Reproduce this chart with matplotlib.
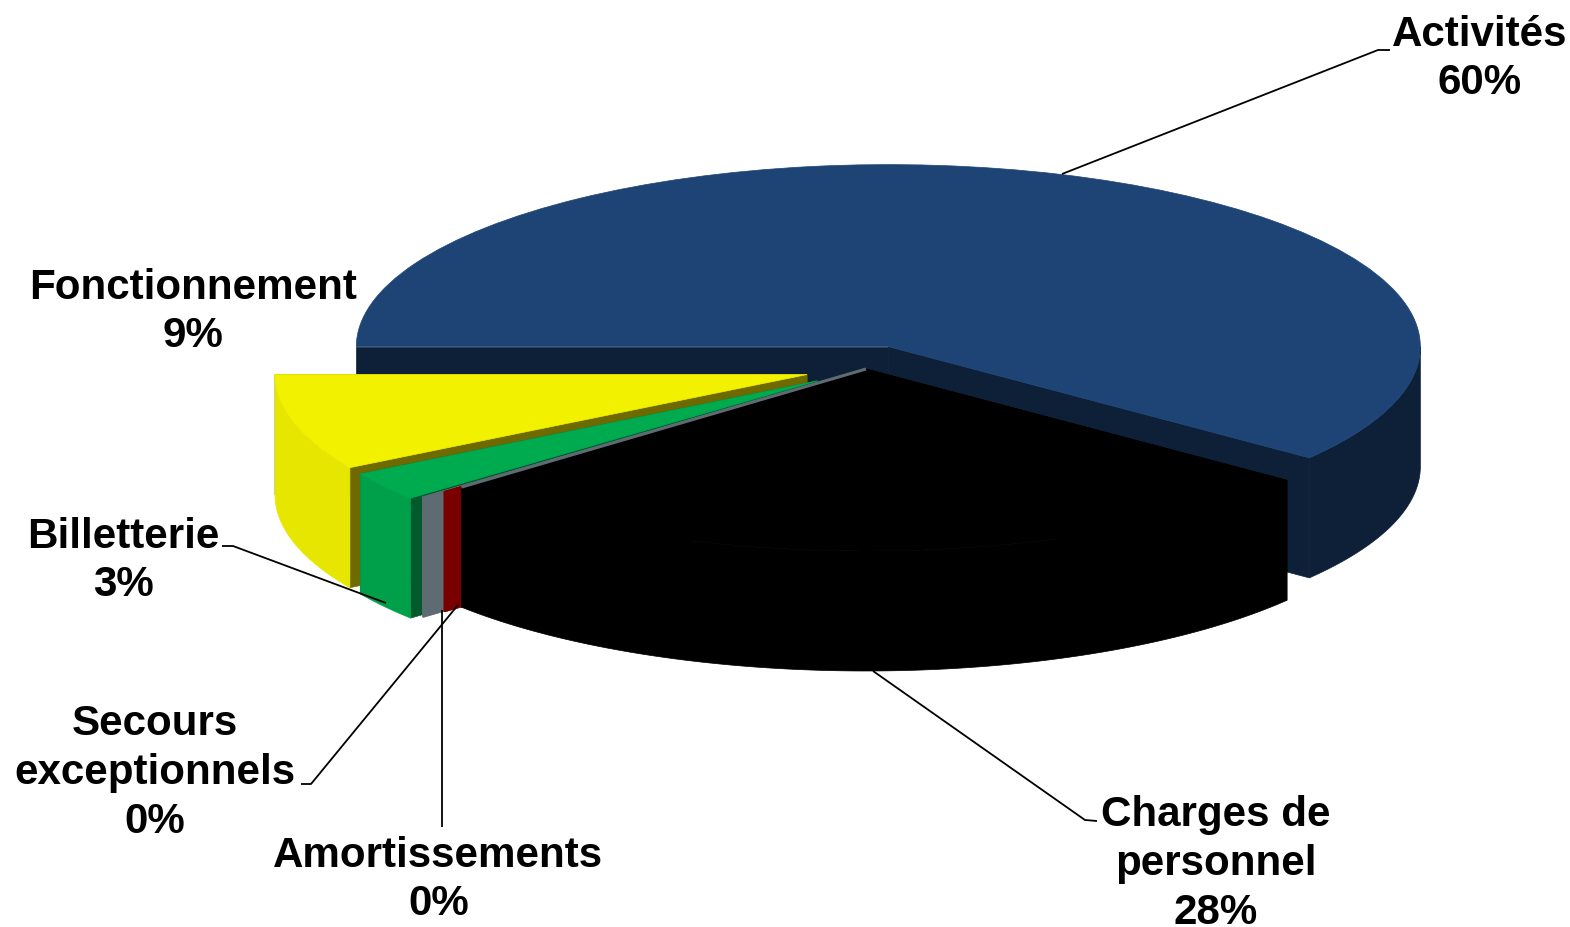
import numpy as np
import matplotlib
matplotlib.use("Agg")
import matplotlib.pyplot as plt
from matplotlib.patches import Polygon

plt.rcParams['font.family'] = ['Liberation Sans', 'DejaVu Sans']

# clockwise from the left of the pie
names = ["Activités", "Charges de\npersonnel", "Amortissements", "Secours\nexceptionnels", "Billetterie", "Fonctionnement"]
values = [60.5, 28.3, 0.05, 0.05, 2.6, 8.55]
percents = ["60%", "28%", "0%", "0%", "3%", "9%"]

explode = [0.13, 0.0, 0.04, 0.09, 0.112, 0.115]
top_colors = ["#1E4476", "#000000", "#7A0000", "#5F6B73", "#00AB50", "#F2F200"]
rim_colors = ["#0E1F38", "#000000", "#7A0000", "#5F6B73", "#00A04A", "#E6E600"]
face_colors = ["#0E1F38", "#000000", "#7A0000", "#5F6B73", "#005A2C", "#6E6A00"]
draw_order = [0, 5, 4, 3, 2, 1]

W, H = 1570, 927
cx, cy = 866, 369    # pixels of the pie centre
rx, ry = 532, 182    # pixels for radius 1
depth = 120 / ry

fig = plt.figure(figsize=(W/100, H/100), dpi=100)
ax = fig.add_axes([0, 0, 1, 1])
wedges, _ = ax.pie(values, startangle=180, counterclock=False, explode=explode, colors=top_colors, radius=1)
ax.set_aspect("auto")
ax.set_xlim(-cx/rx, (W-cx)/rx)
ax.set_ylim((cy-H)/ry, cy/ry)
ax.axis("off")


def arc(w, t1, t2, n=120):
    t = np.radians(np.linspace(t1, t2, n))
    return w.center[0] + w.r*np.cos(t), w.center[1] + w.r*np.sin(t)


def wall(xs, ys, color, z):
    pts = np.r_[np.c_[xs, ys], np.c_[xs[::-1], ys[::-1]-depth]]
    ax.add_patch(Polygon(pts, closed=True, facecolor=color, edgecolor=color, lw=0.5, zorder=z))


z = 2
for i in draw_order:
    w = wedges[i]
    xs, ys = arc(w, w.theta1, w.theta2, 2)
    wall(np.array([w.center[0], xs[0]]), np.array([w.center[1], ys[0]]), face_colors[i], z)
    wall(np.array([w.center[0], xs[-1]]), np.array([w.center[1], ys[-1]]), face_colors[i], z+1)
    # only the front part of the rim can be seen
    fx, fy = arc(w, w.theta1, min(w.theta2, 0))
    wall(fx, fy, rim_colors[i], z+2)
    w.set_edgecolor(top_colors[i])
    w.set_linewidth(0.5)
    w.set_zorder(z+3)
    z += 4

# thin grey edge along the black slice
b = wedges[1]
bx, by = arc(b, b.theta1, b.theta1, 2)
ax.plot([b.center[0], bx[0]], [b.center[1], by[0]], color="#5F6B73", lw=2.2, zorder=z, solid_capstyle="butt")

ov = fig.add_axes([0, 0, 1, 1])
ov.set_xlim(0, W)
ov.set_ylim(H, 0)
ov.axis("off")
ov.patch.set_alpha(0)

leaders = [
    ([1062, 1378, 1390], [174, 50, 50]),
    ([873, 1085, 1097], [671, 820, 821]),
    ([441.7, 441.7], [610, 827]),
    ([458, 311, 301], [605, 784, 784]),
    ([386, 233, 222], [603, 546, 546]),
]
for lx, ly in leaders:
    ov.plot(lx, ly, color="black", lw=1.3, solid_capstyle="butt")

label_pos = [(1480, 59), (1216, 864), (438.5, 880), (154.5, 773), (123, 561), (193, 312)]
for name, pct, (x, y) in zip(names, percents, label_pos):
    ov.text(x, y, name + "\n" + pct, ha="center", va="center", multialignment="center",
            fontsize=30.3, fontweight="bold", color="black", linespacing=1.29)

fig.savefig("out.png", dpi=100, facecolor="white")
